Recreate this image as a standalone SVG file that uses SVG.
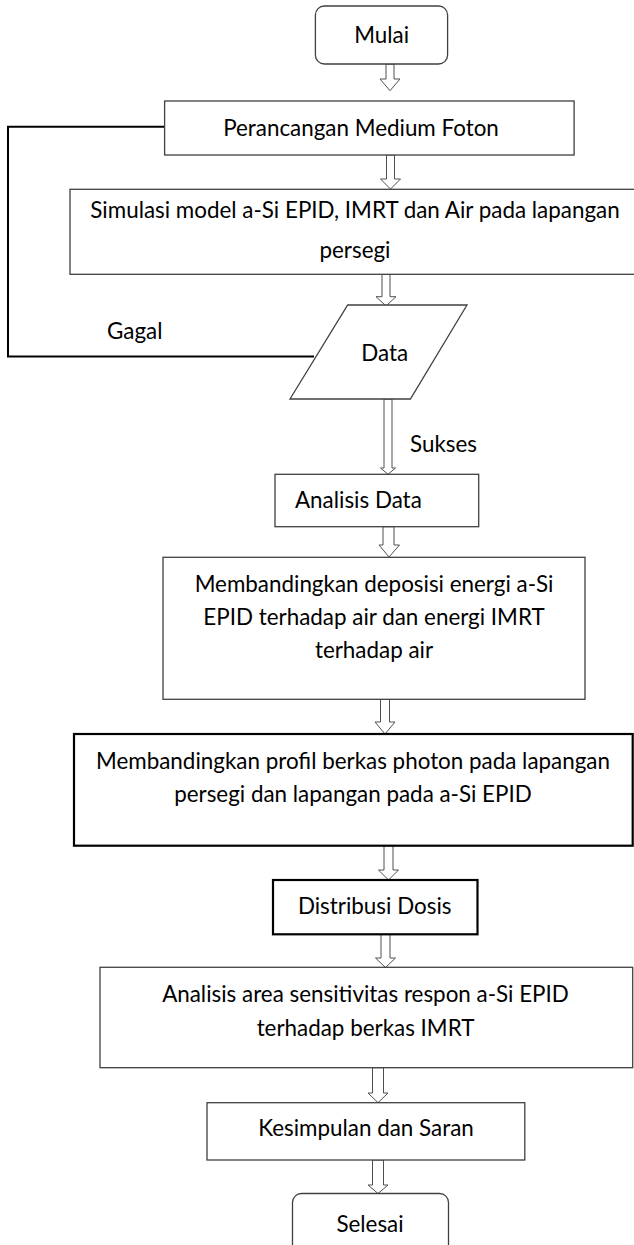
<svg xmlns="http://www.w3.org/2000/svg" width="634" height="1245" viewBox="0 0 634 1245">
<style>
.box{fill:#fff;stroke:#404040;stroke-width:1.3}
.bold{fill:#fff;stroke:#000;stroke-width:2.2}
.arr{fill:#fff;stroke:#505050;stroke-width:1}
.line{fill:none;stroke:#000;stroke-width:2}
text{font-family:Lato,"Open Sans","Liberation Sans",sans-serif;font-size:22.4px;fill:#000}
.c{text-anchor:middle}
</style>
<rect width="634" height="1245" fill="#fff"/>
<g id="connectors">
<polyline class="line" points="164.6,126.7 8,126.7 8,356.5 314,356.5"/>
<polygon class="arr" points="386,64 394,64 394,79 400,79 390,90.7 380,79 386,79"/>
<polygon class="arr" points="386.5,155 394.5,155 394.5,179 400.5,179 390.5,189 380.5,179 386.5,179"/>
<polygon class="arr" points="382,274.3 390,274.3 390,296.7 396,296.7 386,306 376,296.7 382,296.7"/>
<polygon class="arr" points="384,399 392,399 392,468 395.5,468 388,474.3 380.5,468 384,468"/>
<polygon class="arr" points="383,526.7 394,526.7 394,545 399.5,545 389,557 379,545 383,545"/>
<polygon class="arr" points="380.5,699.3 389.5,699.3 389.5,722 395,722 385,734 375,722 380.5,722"/>
<polygon class="arr" points="384,845.7 393,845.7 393,870 398.5,870 388.5,880 378.5,870 384,870"/>
<polygon class="arr" points="381,934.3 390,934.3 390,958 395.5,958 385.5,967.5 375.5,958 381,958"/>
<polygon class="arr" points="372.5,1067.7 383.5,1067.7 383.5,1093 388,1093 378,1102.7 368,1093 372.5,1093"/>
<polygon class="arr" points="372.5,1160 383.5,1160 383.5,1185 388,1185 378,1193.5 368,1185 372.5,1185"/>
<text x="107" y="339">Gagal</text>
<text x="410" y="451.5">Sukses</text>
</g>
<g id="mulai">
<rect class="box" x="315.4" y="6" width="132.2" height="58" rx="9"/>
<text class="c" x="381.7" y="43">Mulai</text>
</g>
<g id="perancangan">
<rect class="box" x="164.6" y="101" width="409.5" height="54"/>
<text class="c" x="361" y="135.5">Perancangan Medium Foton</text>
</g>
<g id="simulasi">
<rect class="box" x="70" y="189.3" width="580" height="85"/>
<text class="c" x="355" y="218">Simulasi model a-Si EPID, IMRT dan Air pada lapangan</text>
<text class="c" x="355" y="258">persegi</text>
</g>
<g id="data">
<polygon class="box" points="347.7,305 467,305 410.4,399 290,399"/>
<text class="c" x="384.7" y="361">Data</text>
</g>
<g id="analisis-data">
<rect class="box" x="275" y="474.3" width="203.7" height="52.4"/>
<text x="295" y="508.3">Analisis Data</text>
</g>
<g id="membandingkan-1">
<rect class="box" x="163" y="557.3" width="422" height="142"/>
<text class="c" x="374" y="591.5">Membandingkan deposisi energi a-Si</text>
<text class="c" x="374" y="624.8">EPID terhadap air dan energi IMRT</text>
<text class="c" x="374" y="658">terhadap air</text>
</g>
<g id="membandingkan-2">
<rect class="bold" x="74" y="734" width="558.7" height="111.7"/>
<text class="c" x="353" y="768.5">Membandingkan profil berkas photon pada lapangan</text>
<text class="c" x="353" y="802">persegi dan lapangan pada a-Si EPID</text>
</g>
<g id="distribusi">
<rect class="bold" x="273" y="880" width="204.5" height="54.3"/>
<text class="c" x="374.7" y="913.7">Distribusi Dosis</text>
</g>
<g id="analisis-area">
<rect class="box" x="100" y="967.3" width="532.7" height="100.4"/>
<text class="c" x="365.5" y="1002">Analisis area sensitivitas respon a-Si EPID</text>
<text class="c" x="365.5" y="1035.5">terhadap berkas IMRT</text>
</g>
<g id="kesimpulan">
<rect class="box" x="207" y="1102.7" width="317.8" height="57.3"/>
<text class="c" x="366" y="1136">Kesimpulan dan Saran</text>
</g>
<g id="selesai">
<rect class="box" x="292.5" y="1193.5" width="156" height="60" rx="9"/>
<text class="c" x="370" y="1232">Selesai</text>
</g>
</svg>
